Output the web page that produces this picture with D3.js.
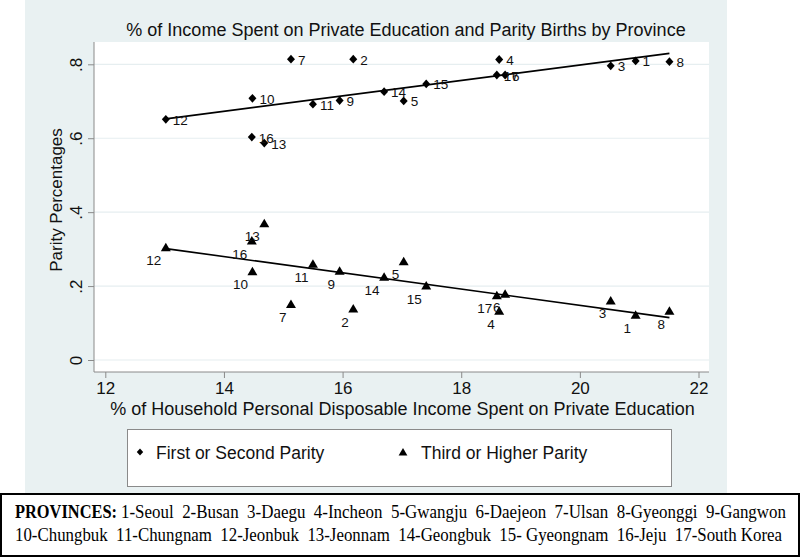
<!DOCTYPE html>
<html>
<head>
<meta charset="utf-8">
<script src="https://cdn.jsdelivr.net/npm/d3@7/dist/d3.min.js"></script>
<style>
  html, body { margin: 0; padding: 0; background: #ffffff; }
  svg { display: block; font-family: "Liberation Sans", Arial, sans-serif; }
</style>
</head>
<body>
<svg id="chart" width="800" height="557"></svg>
<script>
// ---- data ----
const provinces = ["1","2","3","4","5","6","7","8","9","10","11","12","13","14","15","16","17"];
const spendPct = [20.94, 16.18, 20.52, 18.64, 17.03, 18.74, 15.13, 21.51, 15.95, 14.48, 15.50, 13.02, 14.68, 16.70, 17.41, 14.47, 18.60];
const firstSecondParity = [0.809, 0.814, 0.796, 0.813, 0.701, 0.771, 0.814, 0.807, 0.702, 0.708, 0.692, 0.651, 0.587, 0.726, 0.747, 0.603, 0.771];
const thirdHigherParity = [0.122, 0.139, 0.161, 0.133, 0.267, 0.179, 0.151, 0.133, 0.241, 0.240, 0.260, 0.305, 0.370, 0.225, 0.201, 0.323, 0.175];
const xTicks = [12, 14, 16, 18, 20, 22];
const yTicks = [0, 0.2, 0.4, 0.6, 0.8];
const yTickLabels = ["0", ".2", ".4", ".6", ".8"];
const legendLabels = ["First or Second Parity", "Third or Higher Parity"];
const titleText = "% of Income Spent on Private Education and Parity Births by Province";
const xTitle = "% of Household Personal Disposable Income Spent on Private Education";
const yTitle = "Parity Percentages";
const footerBold = "PROVINCES:";
const footerLine1 = "1-Seoul  2-Busan  3-Daegu  4-Incheon  5-Gwangju  6-Daejeon  7-Ulsan  8-Gyeonggi  9-Gangwon";
const footerLine2 = "10-Chungbuk  11-Chungnam  12-Jeonbuk  13-Jeonnam  14-Geongbuk  15- Gyeongnam  16-Jeju  17-South Korea";

// ---- layout ----
const SANS = "'Liberation Sans', Arial, sans-serif";
const SERIF = "'Liberation Serif', 'Times New Roman', serif";
const svg = d3.select("#chart");
const plot = { left: 94, right: 709, top: 42, bottom: 372 };
const x = d3.scaleLinear().domain([12, 22]).range([105.3, 698.5]);
const y = d3.scaleLinear().domain([0, 0.8]).range([360, 64.3]);

// outer graph region
svg.append("rect").attr("x", 25).attr("y", 0).attr("width", 702).attr("height", 494)
  .attr("fill", "#e9f1f2");
// plot region
svg.append("rect").attr("x", plot.left).attr("y", plot.top)
  .attr("width", plot.right - plot.left).attr("height", plot.bottom - plot.top)
  .attr("fill", "#ffffff");

// gridlines
svg.append("g").selectAll("line").data(yTicks).join("line")
  .attr("x1", plot.left).attr("x2", plot.right)
  .attr("y1", d => y(d)).attr("y2", d => y(d))
  .attr("stroke", "#e6eef0").attr("stroke-width", 1.2);

// axes
const xAxis = d3.axisBottom(x).tickValues(xTicks).tickSize(6).tickFormat(d3.format("d"));
const gx = svg.append("g").attr("transform", `translate(0,${plot.bottom})`).call(xAxis);
gx.select(".domain").remove();
gx.selectAll(".tick line").attr("stroke", "#8a8a8a");
gx.selectAll(".tick text").attr("fill", "#111").style("font-size", "17px").style("font-family", SANS)
  .attr("y", 9).attr("dy", "0.75em");
svg.append("line").attr("x1", plot.left).attr("x2", plot.right)
  .attr("y1", plot.bottom).attr("y2", plot.bottom).attr("stroke", "#8a8a8a");

const yAxis = d3.axisLeft(y).tickValues(yTicks).tickSize(6).tickFormat((d, i) => yTickLabels[i]);
const gy = svg.append("g").attr("transform", `translate(${plot.left},0)`).call(yAxis);
gy.select(".domain").remove();
gy.selectAll(".tick line").attr("stroke", "#8a8a8a");
gy.selectAll(".tick text").attr("fill", "#111").style("font-size", "17px").style("font-family", SANS)
  .attr("x", null).attr("dy", null)
  .attr("text-anchor", "middle")
  .attr("transform", "translate(-12.5,0) rotate(-90)");
svg.append("line").attr("x1", plot.left).attr("x2", plot.left)
  .attr("y1", plot.top).attr("y2", plot.bottom).attr("stroke", "#8a8a8a");

// titles
svg.append("text").attr("x", 406).attr("y", 36).attr("text-anchor", "middle")
  .style("font-size", "18px").attr("fill", "#111").text(titleText);
svg.append("text").attr("x", 402.5).attr("y", 415).attr("text-anchor", "middle")
  .style("font-size", "18px").attr("fill", "#111").text(xTitle);
svg.append("text").attr("transform", "translate(61.5,200) rotate(-90)").attr("text-anchor", "middle")
  .style("font-size", "17px").attr("fill", "#111").text(yTitle);

// data
const pts = provinces.map((p, i) => ({ id: p, x: spendPct[i], a: firstSecondParity[i], b: thirdHigherParity[i] }));

function ols(xs, ys) {
  const mx = d3.mean(xs), my = d3.mean(ys);
  const sxy = d3.sum(xs, (v, i) => (v - mx) * (ys[i] - my));
  const sxx = d3.sum(xs, v => (v - mx) * (v - mx));
  const b = sxy / sxx;
  return v => my + b * (v - mx);
}
const xExt = d3.extent(spendPct);
const fitA = ols(spendPct, firstSecondParity);
const fitB = ols(spendPct, thirdHigherParity);
const line = d3.line().x(d => x(d[0])).y(d => y(d[1]));
svg.append("path").attr("d", line(xExt.map(v => [v, fitA(v)])))
  .attr("stroke", "#000").attr("stroke-width", 1.6).attr("fill", "none");
svg.append("path").attr("d", line(xExt.map(v => [v, fitB(v)])))
  .attr("stroke", "#000").attr("stroke-width", 1.6).attr("fill", "none");

const diamond = "M0,-4.4L4,0L0,4.4L-4,0Z";
const triangle = "M0,-4.6L5,3.9L-5,3.9Z";

// first/second parity
svg.append("g").selectAll("path").data(pts).join("path")
  .attr("d", diamond).attr("transform", d => `translate(${x(d.x)},${y(d.a)})`).attr("fill", "#000");
svg.append("g").selectAll("text").data(pts).join("text")
  .attr("x", d => x(d.x) + 7).attr("y", d => y(d.a) + 5.5)
  .style("font-size", "13.5px").attr("fill", "#111").text(d => d.id);

// third or higher
svg.append("g").selectAll("path").data(pts).join("path")
  .attr("d", triangle).attr("transform", d => `translate(${x(d.x)},${y(d.b)})`).attr("fill", "#000");
svg.append("g").selectAll("text").data(pts).join("text")
  .attr("x", d => x(d.x) - 4.5).attr("y", d => y(d.b) + 18).attr("text-anchor", "end")
  .style("font-size", "13.5px").attr("fill", "#111").text(d => d.id);

// legend
svg.append("rect").attr("x", 127.5).attr("y", 429.5).attr("width", 544).attr("height", 57)
  .attr("fill", "#fff").attr("stroke", "#8a8a8a").attr("stroke-width", 1);
const legend = [
  { sym: "M0,-3.6L3.2,0L0,3.6L-3.2,0Z", mx: 140, tx: 156, label: legendLabels[0] },
  { sym: "M0,-4L4.4,3.4L-4.4,3.4Z", mx: 403, tx: 421, label: legendLabels[1] }
];
const lg = svg.append("g").selectAll("g").data(legend).join("g");
lg.append("path").attr("d", d => d.sym).attr("transform", d => `translate(${d.mx},452)`).attr("fill", "#000");
lg.append("text").attr("x", d => d.tx).attr("y", 459).style("font-size", "17.5px").attr("fill", "#111").text(d => d.label);

// footer
svg.append("rect").attr("x", 1).attr("y", 494).attr("width", 798).attr("height", 62)
  .attr("fill", "#fff").attr("stroke", "#000").attr("stroke-width", 2);
svg.append("text").attr("x", 15).attr("y", 518)
  .style("font-family", SERIF).style("font-weight", "bold").style("font-size", "18px").attr("fill", "#000")
  .attr("textLength", 102).attr("lengthAdjust", "spacingAndGlyphs").text(footerBold);
svg.append("text").attr("x", 121).attr("y", 518)
  .style("font-family", SERIF).style("font-size", "18px").attr("fill", "#000").style("white-space", "pre")
  .attr("textLength", 665).attr("lengthAdjust", "spacingAndGlyphs").text(footerLine1);
svg.append("text").attr("x", 15).attr("y", 541)
  .style("font-family", SERIF).style("font-size", "18px").attr("fill", "#000").style("white-space", "pre")
  .attr("textLength", 767).attr("lengthAdjust", "spacingAndGlyphs").text(footerLine2);
</script>
</body>
</html>
